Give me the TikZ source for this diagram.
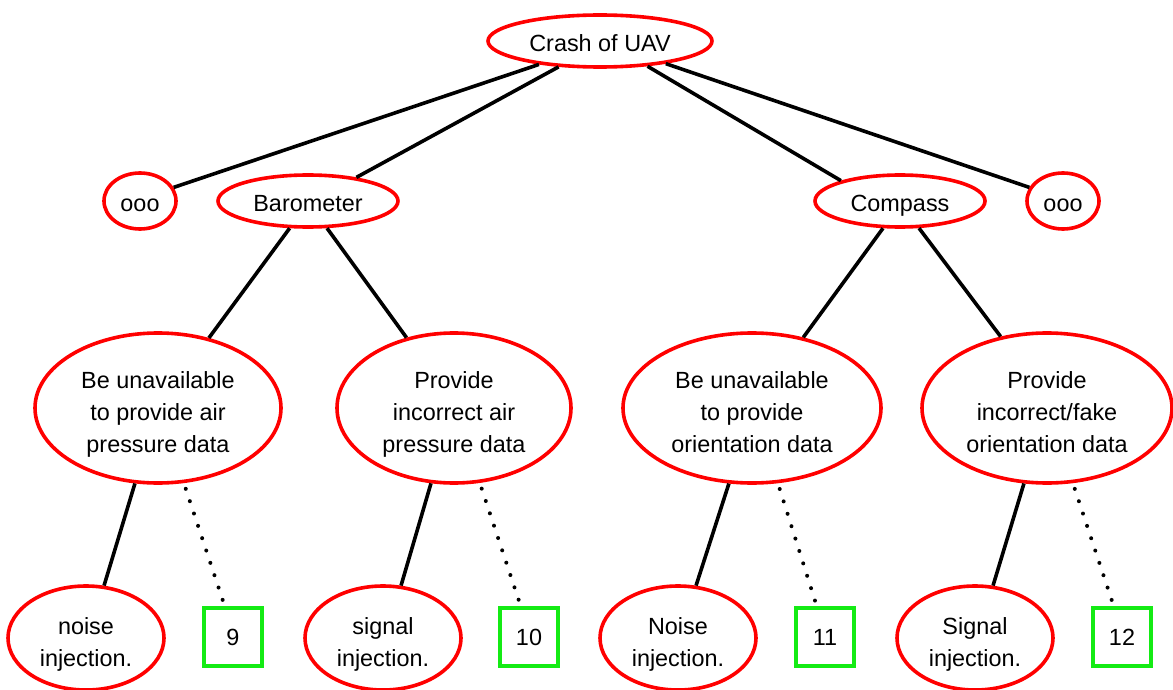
\documentclass[tikz,border=0pt]{standalone}
\usepackage{fontspec}
\setmainfont{Liberation Sans}
\usetikzlibrary{shapes.geometric}
\definecolor{goalred}{RGB}{255,0,0}
\definecolor{leafgreen}{RGB}{20,235,20}

\begin{document}
\begin{tikzpicture}[
    x=0.5pt, y=-0.5pt,
    goal/.style={ellipse, draw=goalred, line width=1.8pt, inner sep=0pt, align=center, font=\fontsize{11.7}{16}\selectfont, text height=10.5pt, text depth=0pt},
    twoline/.style={text height=28.2pt, text depth=0pt},
    threeline/.style={text height=44.2pt, text depth=0pt},
    leaf/.style={rectangle, draw=leafgreen, line width=1.8pt, minimum size=29pt, inner sep=0pt, font=\fontsize{11.7}{16}\selectfont},
    edge/.style={line width=1.8pt},
    link/.style={line width=2pt, line cap=round, dash pattern=on 0pt off 6.5pt}
]
\useasboundingbox (0,0) rectangle (1173,690);

% top goal and sensors
\node[goal, minimum width=112pt, minimum height=26pt] (root) at (600,41) {Crash of UAV};
\node[goal, minimum width=36pt, minimum height=28pt] (oooL) at (140,201) {ooo};
\node[goal, minimum width=90pt, minimum height=26pt] (baro) at (308,201) {Barometer};
\node[goal, minimum width=85pt, minimum height=26pt] (comp) at (900,201) {Compass};
\node[goal, minimum width=36pt, minimum height=28pt] (oooR) at (1063,201) {ooo};

% failure modes
\node[goal, threeline, minimum width=123pt, minimum height=75pt] (unavAir) at (158,408) {Be unavailable\\to provide air\\pressure data};
\node[goal, threeline, minimum width=117pt, minimum height=75pt] (incAir) at (454,408) {Provide\\incorrect air\\pressure data};
\node[goal, threeline, minimum width=129pt, minimum height=75pt] (unavOri) at (752,408) {Be unavailable\\to provide\\orientation data};
\node[goal, threeline, minimum width=125pt, minimum height=75pt] (incOri) at (1047,408) {Provide\\incorrect/fake\\orientation data};

% attacks
\node[goal, twoline, minimum width=78pt, minimum height=52pt] (noiseAir) at (86,638) {noise\\injection.};
\node[goal, twoline, minimum width=78pt, minimum height=52pt] (signalAir) at (383,638) {signal\\injection.};
\node[goal, twoline, minimum width=78pt, minimum height=52pt] (noiseOri) at (678,638) {Noise\\injection.};
\node[goal, twoline, minimum width=78pt, minimum height=52pt] (signalOri) at (975,638) {Signal\\injection.};

\node[leaf] (ref9) at (233,637) {9};
\node[leaf] (ref10) at (529,637) {10};
\node[leaf] (ref11) at (825,637) {11};
\node[leaf] (ref12) at (1122,637) {12};

\draw[edge] (root.201) -- (oooL.22);
\draw[edge] (root.212) -- (baro.26);
\draw[edge] (root.332) -- (comp.161);
\draw[edge] (root.341) -- (oooR.158);

\draw[edge] (baro.236) -- (unavAir.54);
\draw[edge] (baro.305) -- (incAir.124);
\draw[edge] (comp.238) -- (unavOri.54);
\draw[edge] (comp.305) -- (incOri.123);

\draw[edge] (unavAir.253) -- (noiseAir.71);
\draw[edge] (incAir.253) -- (signalAir.71);
\draw[edge] (unavOri.253) -- (noiseOri.71);
\draw[edge] (incOri.253) -- (signalOri.71);

\draw[link, shorten <=3pt] (unavAir.289) -- (ref9.105);
\draw[link, shorten <=3pt] (incAir.289) -- (ref10.105);
\draw[link, shorten <=3pt] (unavOri.289) -- (ref11.105);
\draw[link, shorten <=3pt] (incOri.289) -- (ref12.105);
\end{tikzpicture}
\end{document}
